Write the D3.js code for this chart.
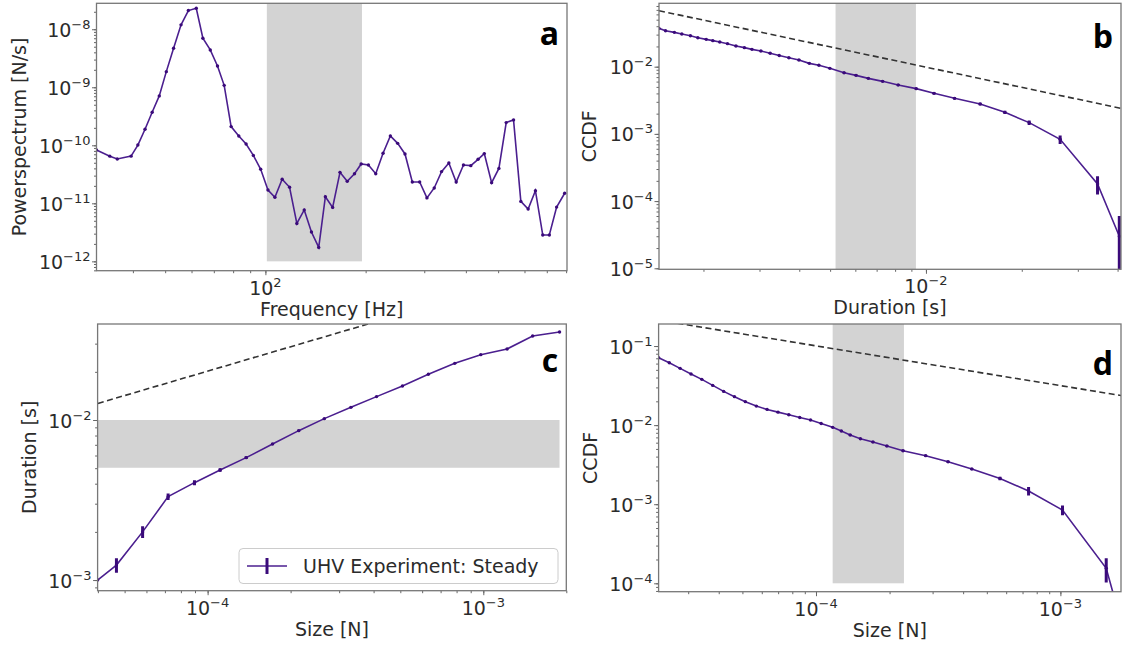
<!DOCTYPE html>
<html>
<head>
<meta charset="utf-8">
<script src="https://cdn.jsdelivr.net/npm/d3@7"></script>
<style>
  html, body { margin: 0; padding: 0; background: #fff; }
  svg { display: block; }
</style>
</head>
<body>
<svg id="fig" width="1126" height="649"></svg>
<script>
// ---- data ----
// a: power spectrum
var freqA = [31.1, 34.1, 35.9, 39.5, 41.4, 43.5, 45.7, 48.0, 50.4, 53.0, 55.8, 58.7, 62.0, 64.9, 68.3, 71.8,
  75.2, 78.9, 83.2, 87.5, 92.0, 96.8, 101.8, 106.8, 112.3, 118.2, 124.3, 130.8, 137.5, 144.6, 151.4, 159.2,
  167.5, 176.1, 185.2, 193.9, 203.9, 214.5, 225.6, 237.3, 249.6, 262.6, 276.2, 290.6, 305.6, 321.4, 338.1, 355.6,
  374.1, 393.4, 413.9, 435.3, 454.4, 478.0, 502.7, 528.7, 556.2, 585.0, 615.3, 647.1, 680.8, 712.4, 749.3, 792.2];
var powerA = [8.3e-11, 6.5e-11, 5.8e-11, 6.5e-11, 1.01e-10, 1.89e-10, 3.71e-10, 7.1e-10, 1.86e-9, 4.7e-9, 1.19e-8, 2.1e-8,
  2.3e-8, 7.0e-9, 4.4e-9, 2.33e-9, 1.08e-9, 2.1e-10, 1.45e-10, 1.05e-10, 6.7e-11, 3.86e-11, 1.70e-11, 1.27e-11,
  2.6e-11, 1.89e-11, 4.5e-12, 7.7e-12, 3.2e-12, 1.74e-12, 1.30e-11, 8.5e-12, 3.42e-11, 2.39e-11, 3.24e-11, 4.77e-11,
  4.58e-11, 3.24e-11, 7.3e-11, 1.45e-10, 1.08e-10, 7.1e-11, 2.33e-11, 2.33e-11, 1.24e-11, 1.84e-11, 3.52e-11, 4.96e-11,
  2.33e-11, 4.58e-11, 4.46e-11, 5.74e-11, 7.2e-11, 2.27e-11, 4.0e-11, 2.46e-10, 2.74e-10, 1.08e-11, 7.97e-12, 1.65e-11,
  2.84e-12, 2.84e-12, 8.6e-12, 1.49e-11];
var bandA = [101, 195];

// b: CCDF of durations
var durB = [1.45e-3, 1.52e-3, 1.62e-3, 1.71e-3, 1.82e-3, 1.92e-3, 2.04e-3, 2.14e-3, 2.25e-3, 2.38e-3, 2.53e-3, 2.69e-3,
  2.84e-3, 3.03e-3, 3.24e-3, 3.46e-3, 3.71e-3, 3.99e-3, 4.30e-3, 4.61e-3, 4.99e-3, 5.53e-3, 6.03e-3, 6.59e-3,
  7.31e-3, 8.18e-3, 9.32e-3, 1.06e-2, 1.23e-2, 1.48e-2, 1.77e-2, 2.11e-2, 2.64e-2, 3.46e-2, 4.05e-2];
var ccdfB = [3.72e-2, 3.43e-2, 3.24e-2, 3.06e-2, 2.89e-2, 2.70e-2, 2.55e-2, 2.44e-2, 2.33e-2, 2.20e-2, 2.03e-2, 1.92e-2,
  1.81e-2, 1.71e-2, 1.58e-2, 1.47e-2, 1.36e-2, 1.26e-2, 1.12e-2, 1.05e-2, 9.45e-3, 8.14e-3, 7.43e-3, 6.70e-3,
  6.05e-3, 5.34e-3, 4.71e-3, 4.01e-3, 3.38e-3, 2.79e-3, 2.09e-3, 1.47e-3, 8.3e-4, 1.80e-4, 3.0e-5];
var errB = [3e-4, 3e-4, 3e-4, 3e-4, 3e-4, 3e-4, 3e-4, 3e-4, 3e-4, 3e-4, 3e-4, 3e-4,
  3e-4, 3e-4, 3e-4, 2.5e-4, 2.5e-4, 2.5e-4, 2.5e-4, 2e-4, 2e-4, 2e-4, 2e-4, 1.8e-4,
  1.8e-4, 1.6e-4, 1.5e-4, 1.4e-4, 1.3e-4, 1.2e-4, 1.1e-4, 1.1e-4, 1.2e-4, 5.5e-5, 3e-5];
var bandB = [5.2e-3, 9.3e-3];
var guideBx = [1.45e-3, 4.1e-2];
var guideBy = [6.8e-2, 2.4e-3];

// c: duration vs size
var sizeC = [3.99e-5, 4.67e-5, 5.81e-5, 7.19e-5, 8.96e-5, 1.11e-4, 1.38e-4, 1.72e-4, 2.14e-4, 2.65e-4,
  3.31e-4, 4.10e-4, 5.09e-4, 6.32e-4, 7.88e-4, 9.79e-4, 1.22e-3, 1.51e-3, 1.89e-3];
var durC = [1.0e-3, 1.24e-3, 2.00e-3, 3.32e-3, 4.06e-3, 4.87e-3, 5.82e-3, 7.08e-3, 8.58e-3, 1.02e-2,
  1.20e-2, 1.40e-2, 1.63e-2, 1.93e-2, 2.26e-2, 2.56e-2, 2.78e-2, 3.35e-2, 3.55e-2];
var errC = [0, 1.3e-4, 1.7e-4, 1.6e-4, 1.5e-4, 1.2e-4, 1.2e-4, 1.0e-4, 1.0e-4, 1.0e-4,
  1e-4, 1e-4, 1e-4, 1e-4, 1e-4, 1e-4, 1e-4, 1e-4, 1e-4];
var bandCy = [5.03e-3, 1.0e-2];
var guideCx = [4.0e-5, 2.0e-3];
var guideCy = [1.27e-2, 9.2e-2];

// d: CCDF of sizes
var sizeD = [2.27e-5, 2.51e-5, 2.78e-5, 3.08e-5, 3.41e-5, 3.78e-5, 4.19e-5, 4.64e-5, 5.14e-5, 5.70e-5, 6.31e-5,
  6.99e-5, 7.74e-5, 8.58e-5, 9.50e-5, 1.05e-4, 1.17e-4, 1.27e-4, 1.38e-4, 1.52e-4, 1.71e-4, 1.95e-4, 2.27e-4,
  2.81e-4, 3.47e-4, 4.34e-4, 5.66e-4, 7.41e-4, 1.02e-3, 1.54e-3, 1.72e-3];
var ccdfD = [7.12e-2, 6.15e-2, 5.22e-2, 4.43e-2, 3.79e-2, 3.18e-2, 2.67e-2, 2.29e-2, 1.98e-2, 1.74e-2, 1.58e-2,
  1.46e-2, 1.35e-2, 1.25e-2, 1.16e-2, 1.05e-2, 9.37e-3, 8.42e-3, 7.50e-3, 6.74e-3, 6.11e-3, 5.44e-3, 4.75e-3,
  4.11e-3, 3.45e-3, 2.79e-3, 2.12e-3, 1.47e-3, 8.45e-4, 1.55e-4, 4.5e-5];
var errD = [4e-4, 4e-4, 4e-4, 4e-4, 3e-4, 3e-4, 3e-4, 3e-4, 2e-4, 2e-4, 2e-4,
  2e-4, 2e-4, 2e-4, 2e-4, 1.5e-4, 1.5e-4, 1.5e-4, 1.5e-4, 1.5e-4, 1.2e-4, 1.2e-4, 1.2e-4,
  1.1e-4, 1e-4, 9e-5, 1.1e-4, 1.8e-4, 1.2e-4, 5.3e-5, 3e-5];
var bandD = [1.17e-4, 2.29e-4];
var guideDx = [2.27e-5, 1.8e-3];
var guideDy = [0.212, 2.35e-2];

// tick labels (exponents of 10)
var ticksAx = [2], ticksAy = [-8, -9, -10, -11, -12];
var ticksBx = [-2], ticksBy = [-2, -3, -4, -5];
var ticksCx = [-4, -3], ticksCy = [-2, -3];
var ticksDx = [-4, -3], ticksDy = [-1, -2, -3, -4];

var legendLabel = "UHV Experiment: Steady";

// ---- style ----
var lineColor = "#4b1f8f";
var barColor = "#3a0a7a";
var bandColor = "#d3d3d3";
var textColor = "#2b2b2b";
var frameColor = "#777";
var font = "'DejaVu Sans', sans-serif";

var svg = d3.select("#fig");

function minorTicks(dom) {
  var lo = Math.min(dom[0], dom[1]), hi = Math.max(dom[0], dom[1]);
  var out = [];
  for (var e = Math.floor(Math.log10(lo)); e <= Math.ceil(Math.log10(hi)); e++) {
    for (var k = 1; k <= 9; k++) {
      var v = k * Math.pow(10, e);
      if (v >= lo * 0.9999 && v <= hi * 1.0001) out.push(v);
    }
  }
  return out;
}

function powLabel(sel, e) {
  sel.text("10");
  sel.append("tspan").attr("dy", -8).attr("font-size", 13)
    .text(e < 0 ? "\u2212" + (-e) : String(e));
}

function drawPanel(p, idx) {
  var g = svg.append("g");
  var x = d3.scaleLog().domain(p.xDomain).range([p.left, p.right]);
  var y = d3.scaleLog().domain(p.yDomain).range([p.bottom, p.top]);

  var cid = "clip" + idx;
  g.append("clipPath").attr("id", cid).append("rect")
    .attr("x", p.left).attr("y", p.top)
    .attr("width", p.right - p.left).attr("height", p.bottom - p.top);
  var inner = g.append("g").attr("clip-path", "url(#" + cid + ")");

  // shaded band
  if (p.band) {
    var b = p.band;
    var bx0 = b.x ? x(b.x[0]) : p.left, bx1 = b.x ? x(b.x[1]) : p.right;
    var by0 = b.y ? y(b.y[1]) : p.top, by1 = b.y ? y(b.y[0]) : p.bottom;
    inner.append("rect").attr("x", bx0).attr("y", by0)
      .attr("width", bx1 - bx0).attr("height", by1 - by0)
      .attr("fill", bandColor);
  }

  // dashed power-law guide
  if (p.guide) {
    var gd = p.guide.x.map(function(v, i) { return [v, p.guide.y[i]]; });
    inner.append("path").datum(gd)
      .attr("d", d3.line().x(function(d) { return x(d[0]); }).y(function(d) { return y(d[1]); }))
      .attr("fill", "none").attr("stroke", "#333").attr("stroke-width", 1.6)
      .attr("stroke-dasharray", "6,3.5");
  }

  var pts = p.xs.map(function(v, i) { return { x: v, y: p.ys[i], e: p.err ? p.err[i] : 0 }; });

  inner.append("path").datum(pts)
    .attr("d", d3.line().x(function(d) { return x(d.x); }).y(function(d) { return y(d.y); }))
    .attr("fill", "none").attr("stroke", lineColor).attr("stroke-width", 1.6);

  if (p.err) {
    var yMin = p.yDomain[0] * 0.5;
    inner.selectAll(".eb").data(pts.filter(function(d) { return d.e > 0; })).enter()
      .append("line")
      .attr("x1", function(d) { return x(d.x); }).attr("x2", function(d) { return x(d.x); })
      .attr("y1", function(d) { return y(Math.max(d.y - d.e, yMin)); })
      .attr("y2", function(d) { return y(d.y + d.e); })
      .attr("stroke", barColor).attr("stroke-width", 3);
  }

  inner.selectAll(".pt").data(pts).enter().append("circle")
    .attr("cx", function(d) { return x(d.x); }).attr("cy", function(d) { return y(d.y); })
    .attr("r", 1.7).attr("fill", barColor);

  // axes: minor + major ticks
  var ax = g.append("g").attr("transform", "translate(0," + p.bottom + ")");
  ax.append("g").call(d3.axisBottom(x).tickValues(minorTicks(p.xDomain)).tickSize(2.5).tickFormat(""));
  ax.append("g").call(d3.axisBottom(x).tickValues(p.xTicks.map(function(e) { return Math.pow(10, e); }))
    .tickSize(4.5).tickFormat(""));
  var ay = g.append("g").attr("transform", "translate(" + p.left + ",0)");
  ay.append("g").call(d3.axisLeft(y).tickValues(minorTicks(p.yDomain)).tickSize(2.5).tickFormat(""));
  ay.append("g").call(d3.axisLeft(y).tickValues(p.yTicks.map(function(e) { return Math.pow(10, e); }))
    .tickSize(4.5).tickFormat(""));
  g.selectAll(".domain").remove();
  g.selectAll(".tick line").attr("stroke", "#666").attr("stroke-width", 1);

  // tick labels
  p.xTicks.forEach(function(e) {
    g.append("text").attr("x", x(Math.pow(10, e))).attr("y", p.bottom + 24)
      .attr("text-anchor", "middle").attr("font-family", font).attr("font-size", 19)
      .attr("fill", textColor).call(powLabel, e);
  });
  p.yTicks.forEach(function(e) {
    g.append("text").attr("x", p.left - 6).attr("y", y(Math.pow(10, e)) + 7.5)
      .attr("text-anchor", "end").attr("font-family", font).attr("font-size", 19)
      .attr("fill", textColor).call(powLabel, e);
  });

  // frame
  g.append("rect").attr("x", p.left).attr("y", p.top)
    .attr("width", p.right - p.left).attr("height", p.bottom - p.top)
    .attr("fill", "none").attr("stroke", frameColor).attr("stroke-width", 1.3);

  // axis labels
  g.append("text").attr("x", (p.left + p.right) / 2).attr("y", p.bottom + 45)
    .attr("text-anchor", "middle").attr("font-family", font).attr("font-size", 19)
    .attr("fill", textColor).text(p.xLabel);
  var cy = (p.top + p.bottom) / 2;
  g.append("text").attr("transform", "translate(" + p.yLabelX + "," + cy + ") rotate(-90)")
    .attr("text-anchor", "middle").attr("dy", "0.35em").attr("font-family", font).attr("font-size", 19)
    .attr("fill", textColor).text(p.yLabel);

  // panel letter
  g.append("text").attr("x", p.right - 8).attr("y", p.top + p.letterDy)
    .attr("text-anchor", "end").attr("font-family", "'Open Sans', sans-serif").attr("font-weight", 700)
    .attr("font-size", 32).attr("fill", "#000").text(p.letter);

  // legend
  if (p.legend) {
    var L = p.legend;
    var lg = g.append("g");
    lg.append("rect").attr("x", L.x).attr("y", L.y).attr("width", L.w).attr("height", L.h)
      .attr("rx", 4).attr("fill", "#fff").attr("fill-opacity", 0.85)
      .attr("stroke", "#ccc").attr("stroke-width", 1);
    var hx0 = L.x + 8, hx1 = L.x + 48, hy = L.y + L.h / 2;
    lg.append("line").attr("x1", hx0).attr("x2", hx1).attr("y1", hy).attr("y2", hy)
      .attr("stroke", lineColor).attr("stroke-width", 1.6);
    lg.append("line").attr("x1", (hx0 + hx1) / 2).attr("x2", (hx0 + hx1) / 2)
      .attr("y1", hy - 8).attr("y2", hy + 8).attr("stroke", barColor).attr("stroke-width", 3);
    lg.append("text").attr("x", L.x + 64).attr("y", hy + 7)
      .attr("font-family", font).attr("font-size", 19).attr("fill", textColor).text(L.text);
  }
}

var panels = [
  { left: 96.5, right: 567, top: 3.3, bottom: 270.7,
    xDomain: [31.1, 805], yDomain: [6.9e-13, 2.8e-8],
    xs: freqA, ys: powerA, err: null,
    band: { x: bandA, y: [1e-12, 1] },
    xTicks: ticksAx, yTicks: ticksAy,
    xLabel: "Frequency [Hz]", yLabel: "Powerspectrum [N/s]", yLabelX: 19,
    letter: "a", letterDy: 42 },
  { left: 659, right: 1121, top: 3.3, bottom: 269.3,
    xDomain: [1.45e-3, 4.1e-2], yDomain: [9.66e-6, 8.77e-2],
    xs: durB, ys: ccdfB, err: errB,
    band: { x: bandB }, guide: { x: guideBx, y: guideBy },
    xTicks: ticksBx, yTicks: ticksBy,
    xLabel: "Duration [s]", yLabel: "CCDF", yLabelX: 589,
    letter: "b", letterDy: 45 },
  { left: 97.6, right: 566.3, top: 324, bottom: 590.7,
    xDomain: [3.99e-5, 2.0e-3], yDomain: [8.58e-4, 3.98e-2],
    xs: sizeC, ys: durC, err: errC,
    band: { x: [sizeC[0], sizeC[sizeC.length - 1]], y: bandCy }, guide: { x: guideCx, y: guideCy },
    xTicks: ticksCx, yTicks: ticksCy,
    xLabel: "Size [N]", yLabel: "Duration [s]", yLabelX: 29,
    letter: "c", letterDy: 48,
    legend: { x: 239, y: 548.5, w: 319, h: 35, text: legendLabel } },
  { left: 658.6, right: 1121, top: 324, bottom: 591.7,
    xDomain: [2.27e-5, 1.77e-3], yDomain: [7.83e-5, 0.19],
    xs: sizeD, ys: ccdfD, err: errD,
    band: { x: bandD, y: [1e-4, 1] }, guide: { x: guideDx, y: guideDy },
    xTicks: ticksDx, yTicks: ticksDy,
    xLabel: "Size [N]", yLabel: "CCDF", yLabelX: 590,
    letter: "d", letterDy: 51 }
];

panels.forEach(drawPanel);
</script>
</body>
</html>
